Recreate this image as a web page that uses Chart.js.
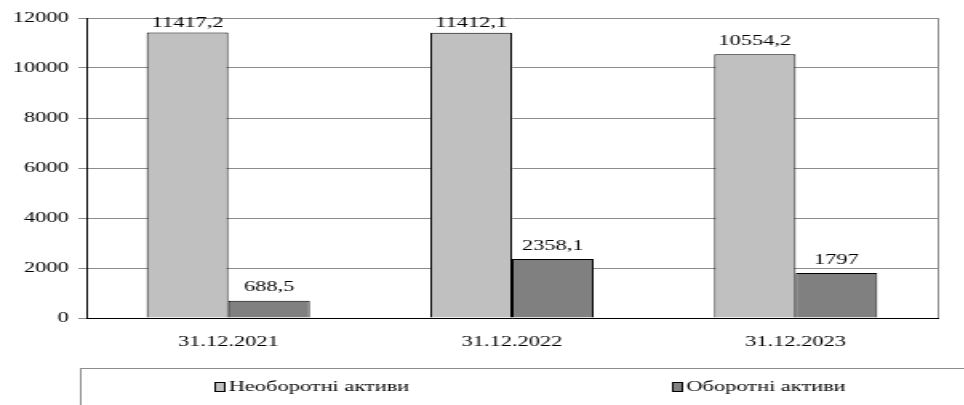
<!DOCTYPE html>
<html>
<head>
<meta charset="utf-8">
<script src="https://cdn.jsdelivr.net/npm/chart.js@4.4.1/dist/chart.umd.min.js"></script>
<style>
    html, body { margin: 0; padding: 0; background: #fff; overflow: hidden; }
    #wrap { width: 603px; height: 405px; transform: scaleX(1.6); transform-origin: 0 0; }
</style>
</head>
<body>
<div id="wrap"><canvas id="assetsChart" width="603" height="405"></canvas></div>
<script>
const dates = ['31.12.2021', '31.12.2022', '31.12.2023'];
const seriesNames = ['Необоротні активи', 'Оборотні активи'];
const nonCurrent = [11417.2, 11412.1, 10554.2];
const current = [688.5, 2358.1, 1797];
const yTicks = [0, 2000, 4000, 6000, 8000, 10000, 12000];

const FONT = "'Liberation Serif', 'Times New Roman', serif";

document.addEventListener("DOMContentLoaded", function () {
    const ctx = document.getElementById('assetsChart').getContext("2d");

    // value labels above each bar, decimal comma
    const barLabels = {
        id: 'barLabels',
        afterDatasetsDraw(chart) {
            const c = chart.ctx;
            c.save();
            c.font = '14px ' + FONT;
            c.fillStyle = '#000';
            c.textAlign = 'center';
            c.textBaseline = 'middle';
            chart.data.datasets.forEach((ds, i) => {
                chart.getDatasetMeta(i).data.forEach((bar, j) => {
                    const txt = String(ds.data[j]).replace('.', ',');
                    const y = Math.max(bar.y - 13, chart.chartArea.top + 5);
                    c.fillText(txt, bar.x, y);
                });
            });
            c.restore();
        }
    };

    // plot frame on the right and the boxed legend underneath
    const frameAndLegend = {
        id: 'frameAndLegend',
        afterDraw(chart) {
            const c = chart.ctx;
            const area = chart.chartArea;
            c.save();
            c.strokeStyle = '#8c8c8c';
            c.lineWidth = 1;
            c.beginPath();
            c.moveTo(area.right + 0.5, area.top);
            c.lineTo(area.right + 0.5, area.bottom);
            c.stroke();

            c.strokeRect(50.5, 368.5, 700, 100);

            const itemX = [134, 420];
            c.font = '14px ' + FONT;
            c.textBaseline = 'middle';
            c.textAlign = 'left';
            chart.data.datasets.forEach((ds, i) => {
                c.fillStyle = ds.backgroundColor;
                c.fillRect(itemX[i], 382, 6, 9);
                c.strokeStyle = '#000';
                c.strokeRect(itemX[i] + 0.5, 382.5, 6, 9);
                c.fillStyle = '#000';
                c.fillText(ds.label, itemX[i] + 9, 387);
            });
            c.restore();
        }
    };

    new Chart(ctx, {
        type: 'bar',
        data: {
            labels: dates,
            datasets: [{
                label: seriesNames[0],
                data: nonCurrent,
                backgroundColor: '#c0c0c0',
                borderColor: '#000',
                borderWidth: 1,
                borderSkipped: 'bottom'
            }, {
                label: seriesNames[1],
                data: current,
                backgroundColor: '#808080',
                borderColor: '#000',
                borderWidth: 1,
                borderSkipped: 'bottom'
            }]
        },
        options: {
            responsive: false,
            animation: false,
            devicePixelRatio: 1,
            categoryPercentage: 0.575,
            barPercentage: 1,
            layout: {
                padding: { top: 18, right: 17, left: 0, bottom: 0 }
            },
            plugins: {
                legend: { display: false },
                tooltip: { enabled: false }
            },
            scales: {
                x: {
                    grid: { display: false, drawTicks: false },
                    border: { display: true, color: '#000', width: 1 },
                    ticks: {
                        color: '#000',
                        font: { family: FONT, size: 14 },
                        padding: 16
                    },
                    afterFit(scale) { scale.height = 87; }
                },
                y: {
                    min: 0,
                    max: 12000,
                    afterBuildTicks(scale) {
                        scale.ticks = yTicks.map(v => ({ value: v }));
                    },
                    grid: { color: '#8c8c8c', tickLength: 5, tickColor: '#8c8c8c' },
                    border: { display: true, color: '#000', width: 1 },
                    ticks: {
                        color: '#000',
                        font: { family: FONT, size: 14 },
                        padding: 6,
                        callback: (value) => String(value)
                    },
                    afterFit(scale) { scale.width = 54; }
                }
            }
        },
        plugins: [barLabels, frameAndLegend]
    });
})
</script>
</body>
</html>
